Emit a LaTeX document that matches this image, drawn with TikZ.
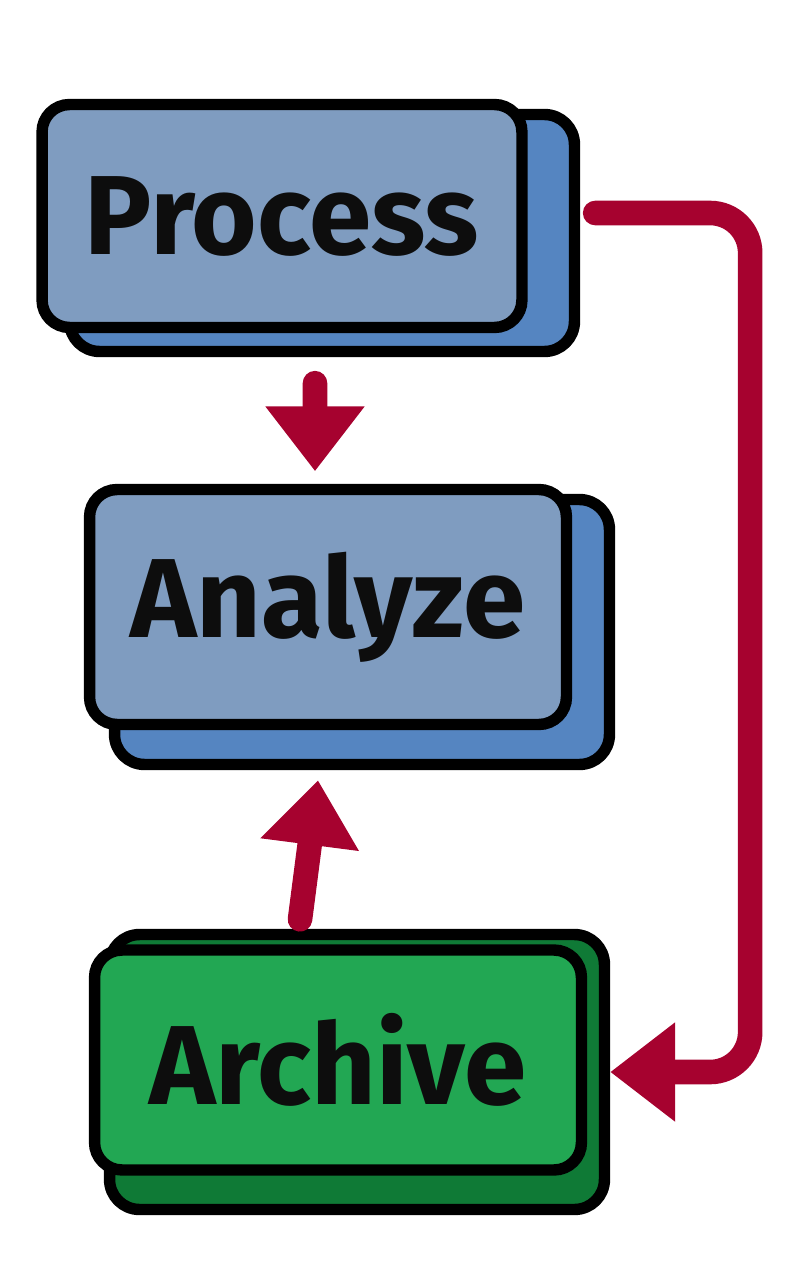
\documentclass[tikz,border=0pt]{standalone}
\usepackage{fontspec}
\setmainfont{Fira Sans}
\usepackage{xcolor}
\usepackage{tikz}
\usetikzlibrary{arrows.meta, positioning}
\definecolor{StepFront}{RGB}{127, 156, 192}
\definecolor{StepBack}{RGB}{85, 133, 193}
\definecolor{DoneFront}{RGB}{34, 167, 83}
\definecolor{DoneBack}{RGB}{15, 122, 54}
\definecolor{FlowRed}{RGB}{166, 2, 47}

\begin{document}
\begin{tikzpicture}[x=0.02cm, y=-0.02cm]
        \tikzset{
            front_box/.style={rectangle, draw=black, line width=6.5pt, rounded corners=0.55cm, font=\bfseries\fontsize{64}{64}\selectfont, text=black!95},
            back_box/.style={rectangle, draw=black, line width=6.5pt, rounded corners=0.6cm},
            flow/.style={draw=FlowRed, line width=14pt, line cap=round, -{Triangle[width=1.9cm, length=1.3cm]}}
        }
        \useasboundingbox (0,0) rectangle (806,1263);

        % process
        \node[back_box, fill=StepBack, minimum width=10.1cm, minimum height=4.74cm] (procback) at (322,233) {};
        \node[front_box, fill=StepFront, minimum width=9.6cm, minimum height=4.46cm] (proc) at (282,216) {Process};

        % analyze
        \node[back_box, fill=StepBack, minimum width=9.9cm, minimum height=5.3cm] (anlback) at (362,632) {};
        \node[front_box, fill=StepFront, minimum width=9.54cm, minimum height=4.7cm] (anl) at (328,607) {Analyze};

        % archive
        \node[back_box, fill=DoneBack, minimum width=9.9cm, minimum height=5.5cm] (archback) at (357,1072) {};
        \node[front_box, fill=DoneFront, minimum width=9.74cm, minimum height=4.4cm] (arch) at (338,1060) {Archive};

        \draw[flow] ([xshift=0.66cm, yshift=-1cm]proc.south) -- ([xshift=-0.26cm, yshift=0.25cm]anl.north);
        \draw[flow] ([xshift=-0.76cm, yshift=0.5cm]arch.north) -- ([xshift=-0.88cm, yshift=-0.2cm]anlback.south);
        \draw[flow, rounded corners=0.8cm] ([xshift=0.3cm, yshift=0.4cm]procback.east) -- ++(155,0) |- (archback.east);

    \end{tikzpicture}
\end{document}
